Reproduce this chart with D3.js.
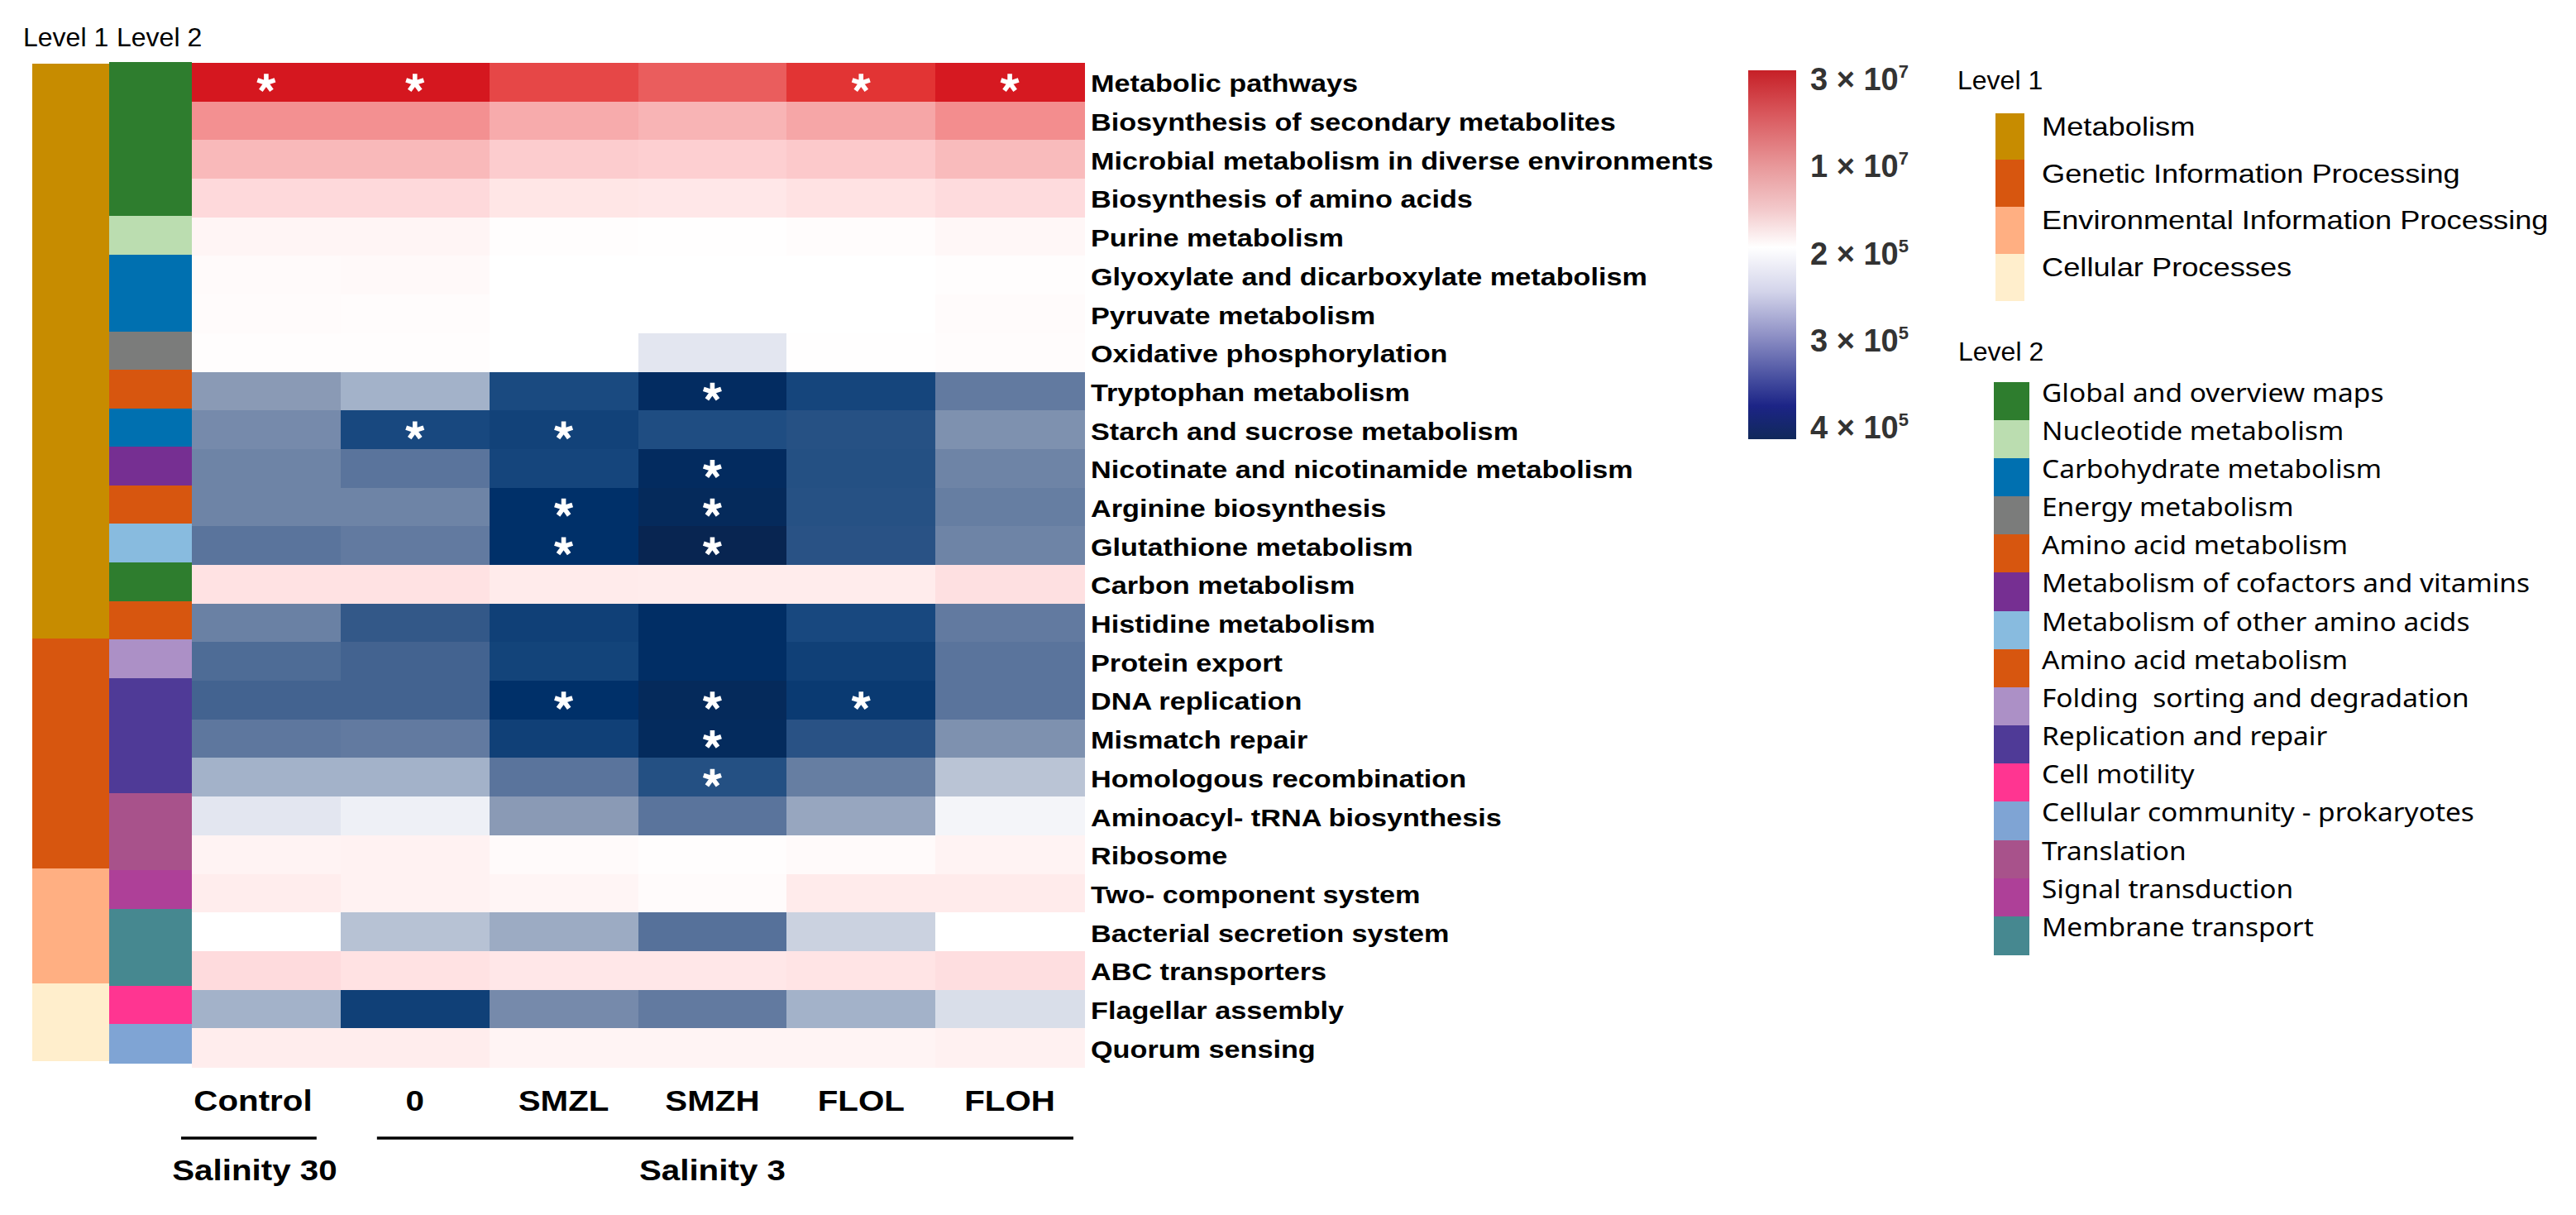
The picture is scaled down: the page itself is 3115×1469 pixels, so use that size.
<!DOCTYPE html>
<html>
<head>
<meta charset="utf-8">
<script src="https://cdn.jsdelivr.net/npm/d3@7"></script>
<style>
  body { margin: 0; background: #fff; }
  svg text { font-family: "Liberation Sans", Arial, sans-serif; }
</style>
</head>
<body>
<svg id="chart" width="3115" height="1469"></svg>
<script>
// ---- data ----
const groups = ["Control", "0", "SMZL", "SMZH", "FLOL", "FLOH"];

const pathways = [
  "Metabolic pathways", "Biosynthesis of secondary metabolites",
  "Microbial metabolism in diverse environments", "Biosynthesis of amino acids",
  "Purine metabolism", "Glyoxylate and dicarboxylate metabolism", "Pyruvate metabolism",
  "Oxidative phosphorylation", "Tryptophan metabolism", "Starch and sucrose metabolism",
  "Nicotinate and nicotinamide metabolism", "Arginine biosynthesis", "Glutathione metabolism",
  "Carbon metabolism", "Histidine metabolism", "Protein export", "DNA replication",
  "Mismatch repair", "Homologous recombination", "Aminoacyl- tRNA biosynthesis", "Ribosome",
  "Two- component system", "Bacterial secretion system", "ABC transporters",
  "Flagellar assembly", "Quorum sensing"
];

// level 1 / level 2 KEGG class of each row
const level1 = [
  "Metabolism", "Metabolism", "Metabolism", "Metabolism", "Metabolism", "Metabolism",
  "Metabolism", "Metabolism", "Metabolism", "Metabolism", "Metabolism", "Metabolism",
  "Metabolism", "Metabolism", "Metabolism",
  "Genetic Information Processing", "Genetic Information Processing",
  "Genetic Information Processing", "Genetic Information Processing",
  "Genetic Information Processing", "Genetic Information Processing",
  "Environmental Information Processing", "Environmental Information Processing",
  "Environmental Information Processing",
  "Cellular Processes", "Cellular Processes"
];
const level2 = [
  "Global and overview maps", "Global and overview maps", "Global and overview maps",
  "Global and overview maps", "Nucleotide metabolism", "Carbohydrate metabolism",
  "Carbohydrate metabolism", "Energy metabolism", "Amino acid metabolism",
  "Carbohydrate metabolism", "Metabolism of cofactors and vitamins", "Amino acid metabolism",
  "Metabolism of other amino acids", "Global and overview maps", "Amino acid metabolism",
  "Folding  sorting and degradation", "Replication and repair", "Replication and repair",
  "Replication and repair", "Translation", "Translation", "Signal transduction",
  "Membrane transport", "Membrane transport", "Cell motility",
  "Cellular community - prokaryotes"
];

// scaled abundance (-1 low ... 0 ... +1 high), one row per pathway, columns = groups
const scores = [
  [1.00, 1.00, 0.82, 0.75, 0.88, 0.99],
  [0.55, 0.55, 0.45, 0.42, 0.47, 0.56],
  [0.40, 0.40, 0.28, 0.26, 0.30, 0.39],
  [0.20, 0.20, 0.13, 0.12, 0.15, 0.19],
  [0.05, 0.05, 0.01, 0.005, 0.015, 0.04],
  [0.025, 0.03, 0, 0, 0, 0.01],
  [0.02, 0.015, 0, 0, 0, 0.02],
  [0.01, 0.01, 0, -0.10, 0.005, 0.015],
  [-0.40, -0.30, -0.72, -0.92, -0.75, -0.50],
  [-0.45, -0.73, -0.77, -0.70, -0.67, -0.43],
  [-0.47, -0.52, -0.75, -0.93, -0.68, -0.47],
  [-0.47, -0.47, -0.88, -0.95, -0.67, -0.49],
  [-0.52, -0.50, -0.88, -1.00, -0.66, -0.47],
  [0.15, 0.15, 0.10, 0.095, 0.095, 0.16],
  [-0.48, -0.62, -0.78, -0.90, -0.73, -0.50],
  [-0.55, -0.58, -0.76, -0.90, -0.78, -0.52],
  [-0.58, -0.58, -0.88, -0.95, -0.82, -0.52],
  [-0.51, -0.50, -0.78, -0.94, -0.66, -0.43],
  [-0.30, -0.30, -0.52, -0.68, -0.49, -0.22],
  [-0.10, -0.06, -0.40, -0.52, -0.35, -0.04],
  [0.06, 0.065, 0.025, 0.01, 0.025, 0.06],
  [0.09, 0.065, 0.05, 0.02, 0.10, 0.10],
  [0, -0.23, -0.33, -0.53, -0.17, 0],
  [0.19, 0.15, 0.12, 0.12, 0.14, 0.17],
  [-0.30, -0.78, -0.45, -0.50, -0.30, -0.13],
  [0.09, 0.09, 0.055, 0.055, 0.055, 0.07]
];

// significant cells (white asterisks)
const stars = [
  ["Metabolic pathways", ["Control", "0", "FLOL", "FLOH"]],
  ["Tryptophan metabolism", ["SMZH"]],
  ["Starch and sucrose metabolism", ["0", "SMZL"]],
  ["Nicotinate and nicotinamide metabolism", ["SMZH"]],
  ["Arginine biosynthesis", ["SMZL", "SMZH"]],
  ["Glutathione metabolism", ["SMZL", "SMZH"]],
  ["DNA replication", ["SMZL", "SMZH", "FLOL"]],
  ["Mismatch repair", ["SMZH"]],
  ["Homologous recombination", ["SMZH"]]
];

const salinityGroups = [
  ["Salinity 30", ["Control"]],
  ["Salinity 3", ["0", "SMZL", "SMZH", "FLOL", "FLOH"]]
];

const colorbarTicks = [["3", "7"], ["1", "7"], ["2", "5"], ["3", "5"], ["4", "5"]];

const level1Legend = ["Metabolism", "Genetic Information Processing",
  "Environmental Information Processing", "Cellular Processes"];
const level2Legend = [
  "Global and overview maps", "Nucleotide metabolism", "Carbohydrate metabolism",
  "Energy metabolism", "Amino acid metabolism", "Metabolism of cofactors and vitamins",
  "Metabolism of other amino acids", "Amino acid metabolism", "Folding  sorting and degradation",
  "Replication and repair", "Cell motility", "Cellular community - prokaryotes",
  "Translation", "Signal transduction", "Membrane transport"
];

// ---- colours ----
const level1Colors = {
  "Metabolism": "#c78c00",
  "Genetic Information Processing": "#d7560f",
  "Environmental Information Processing": "#ffaf82",
  "Cellular Processes": "#ffeecc"
};
const level2Colors = {
  "Global and overview maps": "#2e7d2e",
  "Nucleotide metabolism": "#bbddb0",
  "Carbohydrate metabolism": "#0070b0",
  "Energy metabolism": "#7b7c7b",
  "Amino acid metabolism": "#d7560f",
  "Metabolism of cofactors and vitamins": "#762f92",
  "Metabolism of other amino acids": "#88bbdf",
  "Folding  sorting and degradation": "#ac90c6",
  "Replication and repair": "#4f3a97",
  "Cell motility": "#ff3591",
  "Cellular community - prokaryotes": "#7fa4d4",
  "Translation": "#a8528b",
  "Signal transduction": "#ae4098",
  "Membrane transport": "#468890"
};

const color = d3.scaleLinear()
  .domain([-1, -0.88, -0.72, -0.62, -0.52, -0.4, -0.3, -0.22, -0.1, 0,
           0.05, 0.1, 0.2, 0.4, 0.55, 0.75, 0.88, 1])
  .range(["#082551", "#003069", "#1a4a80", "#335888", "#5a749c", "#8a9ab5", "#a3b2c9",
          "#bac4d5", "#e3e6f0", "#ffffff", "#fff5f5", "#ffebeb", "#fed9db", "#f9b9ba",
          "#f39091", "#ea5d5d", "#e23434", "#d5171f"]);

const svg = d3.select("#chart");

// helper: text is stretched horizontally in the figure
function put(sel, x, y, sx) {
  return sel.attr("transform", "translate(" + x + "," + y + ") scale(" + sx + ",1)");
}

// five-armed asterisk symbol for the significance marks
const asterisk = {
  draw(ctx, size) {
    const r = Math.sqrt(size) / 2, w = r * 0.25;
    for (let k = 0; k < 5; k++) {
      const a = -Math.PI / 2 + k * 2 * Math.PI / 5;
      const c = Math.cos(a), s = Math.sin(a);
      const px = -s * w, py = c * w;
      ctx.moveTo(px, py);
      ctx.lineTo(px + c * r, py + s * r);
      ctx.lineTo(-px + c * r, -py + s * r);
      ctx.lineTo(-px, -py);
      ctx.closePath();
    }
  }
};

// scales
const x = d3.scaleBand().domain(groups).range([232, 1311]);
const y = d3.scaleBand().domain(pathways).range([76, 1290]);
const yL1 = d3.scaleBand().domain(pathways).range([77, 1282]);
const yL2 = d3.scaleBand().domain(pathways).range([75, 1285]);

// level bars
svg.append("g").selectAll("rect").data(pathways).join("rect")
  .attr("x", 39).attr("width", 93)
  .attr("y", d => yL1(d)).attr("height", yL1.bandwidth() + 0.6)
  .attr("fill", (d, i) => level1Colors[level1[i]])
  .attr("shape-rendering", "crispEdges");
svg.append("g").selectAll("rect").data(pathways).join("rect")
  .attr("x", 132).attr("width", 100)
  .attr("y", d => yL2(d)).attr("height", yL2.bandwidth() + 0.6)
  .attr("fill", (d, i) => level2Colors[level2[i]])
  .attr("shape-rendering", "crispEdges");

put(svg.append("text").text("Level 1"), 28, 56, 1).attr("font-size", 32);
put(svg.append("text").text("Level  2"), 141, 56, 1).attr("font-size", 32);

// heat cells
const cells = [];
pathways.forEach((p, i) => groups.forEach((g, j) => cells.push({ p, g, v: scores[i][j] })));
svg.append("g").selectAll("rect").data(cells).join("rect")
  .attr("x", d => x(d.g)).attr("y", d => y(d.p))
  .attr("width", x.bandwidth() + 0.5).attr("height", y.bandwidth() + 0.5)
  .attr("fill", d => color(d.v))
  .attr("shape-rendering", "crispEdges");

// asterisks
const starCells = [];
stars.forEach(([p, gs]) => gs.forEach(g => starCells.push({ p, g })));
svg.append("g").selectAll("path").data(starCells).join("path")
  .attr("transform", d => "translate(" + (x(d.g) + x.bandwidth() / 2) + "," +
    (y(d.p) + y.bandwidth() / 2 + 1) + ")")
  .attr("d", d3.symbol().type(asterisk).size(500))
  .attr("fill", "#fff");

// row labels
svg.append("g").selectAll("text").data(pathways).join("text")
  .each(function (d) { put(d3.select(this), 1319, y(d) + y.bandwidth() / 2 + 12, 1.18); })
  .attr("font-size", 29).attr("font-weight", "bold")
  .text(d => d);

// column labels
const colLabelShift = { "Control": -16 };
svg.append("g").selectAll("text").data(groups).join("text")
  .each(function (d) {
    put(d3.select(this), x(d) + x.bandwidth() / 2 + (colLabelShift[d] || 0), 1343, 1.12);
  })
  .attr("text-anchor", "middle")
  .attr("font-size", 36).attr("font-weight", "bold")
  .text(d => d);

// salinity brackets
const bracketInset = { "Salinity 30": [-13, 29], "Salinity 3": [44, 13] };
const groupLabelShift = { "Salinity 30": -14, "Salinity 3": 0 };
salinityGroups.forEach(([name, gs]) => {
  const x0 = x(gs[0]), x1 = x(gs[gs.length - 1]) + x.bandwidth();
  svg.append("line")
    .attr("x1", x0 + bracketInset[name][0]).attr("x2", x1 - bracketInset[name][1])
    .attr("y1", 1376).attr("y2", 1376)
    .attr("stroke", "#000").attr("stroke-width", 3.5);
  put(svg.append("text"), (x0 + x1) / 2 + groupLabelShift[name], 1427, 1.12)
    .attr("text-anchor", "middle")
    .attr("font-size", 36).attr("font-weight", "bold")
    .text(name);
});

// colour bar
const grad = svg.append("defs").append("linearGradient")
  .attr("id", "cbar").attr("x1", 0).attr("x2", 0).attr("y1", 0).attr("y2", 1);
[[0, "#c62027"], [0.12, "#d9585d"], [0.26, "#e8989a"], [0.38, "#f3cacc"], [0.48, "#ffffff"],
 [0.6, "#d3d4ea"], [0.72, "#8e90c5"], [0.84, "#444c9e"], [0.91, "#1c2486"], [1, "#10295a"]]
  .forEach(([o, c]) => grad.append("stop").attr("offset", o).attr("stop-color", c));
svg.append("rect").attr("x", 2114).attr("y", 85).attr("width", 58).attr("height", 446)
  .attr("fill", "url(#cbar)");

const tickY = d3.scalePoint().domain(d3.range(colorbarTicks.length)).range([96, 517]);
const tickText = svg.append("g").selectAll("text").data(colorbarTicks).join("text")
  .attr("x", 2189).attr("y", (d, i) => tickY(i) + 13)
  .attr("font-size", 38).attr("font-weight", "bold").attr("fill", "#333");
tickText.append("tspan").text(d => d[0] + " \u00d7 10");
tickText.append("tspan").attr("font-size", 22).attr("dy", -15).text(d => d[1]);

// level 1 legend
put(svg.append("text").text("Level 1"), 2367, 108, 1).attr("font-size", 32);
const l1y = d3.scaleBand().domain(level1Legend).range([136.5, 363.5]);
svg.append("g").selectAll("rect").data(level1Legend).join("rect")
  .attr("x", 2413).attr("width", 35)
  .attr("y", d => l1y(d)).attr("height", l1y.bandwidth() + 0.5)
  .attr("fill", d => level1Colors[d]).attr("shape-rendering", "crispEdges");
svg.append("g").selectAll("text").data(level1Legend).join("text")
  .each(function (d) { put(d3.select(this), 2469, l1y(d) + l1y.bandwidth() / 2 - 1, 1.17); })
  .attr("font-size", 31)
  .text(d => d);

// level 2 legend
put(svg.append("text").text("Level 2"), 2368, 436, 1).attr("font-size", 32);
const l2y = d3.scaleBand().domain(d3.range(level2Legend.length)).range([461.6, 1154]);
svg.append("g").selectAll("rect").data(level2Legend).join("rect")
  .attr("x", 2411).attr("width", 43)
  .attr("y", (d, i) => l2y(i)).attr("height", l2y.bandwidth() + 0.5)
  .attr("fill", d => level2Colors[d]).attr("shape-rendering", "crispEdges");
svg.append("g").selectAll("text").data(level2Legend).join("text")
  .each(function (d, i) { put(d3.select(this), 2469, l2y(i) + l2y.bandwidth() / 2 + 1, 1.08); })
  .style("font-family", "'Noto Sans', sans-serif")
  .attr("font-size", 31)
  .style("white-space", "pre")
  .text(d => d);
</script>
</body>
</html>
